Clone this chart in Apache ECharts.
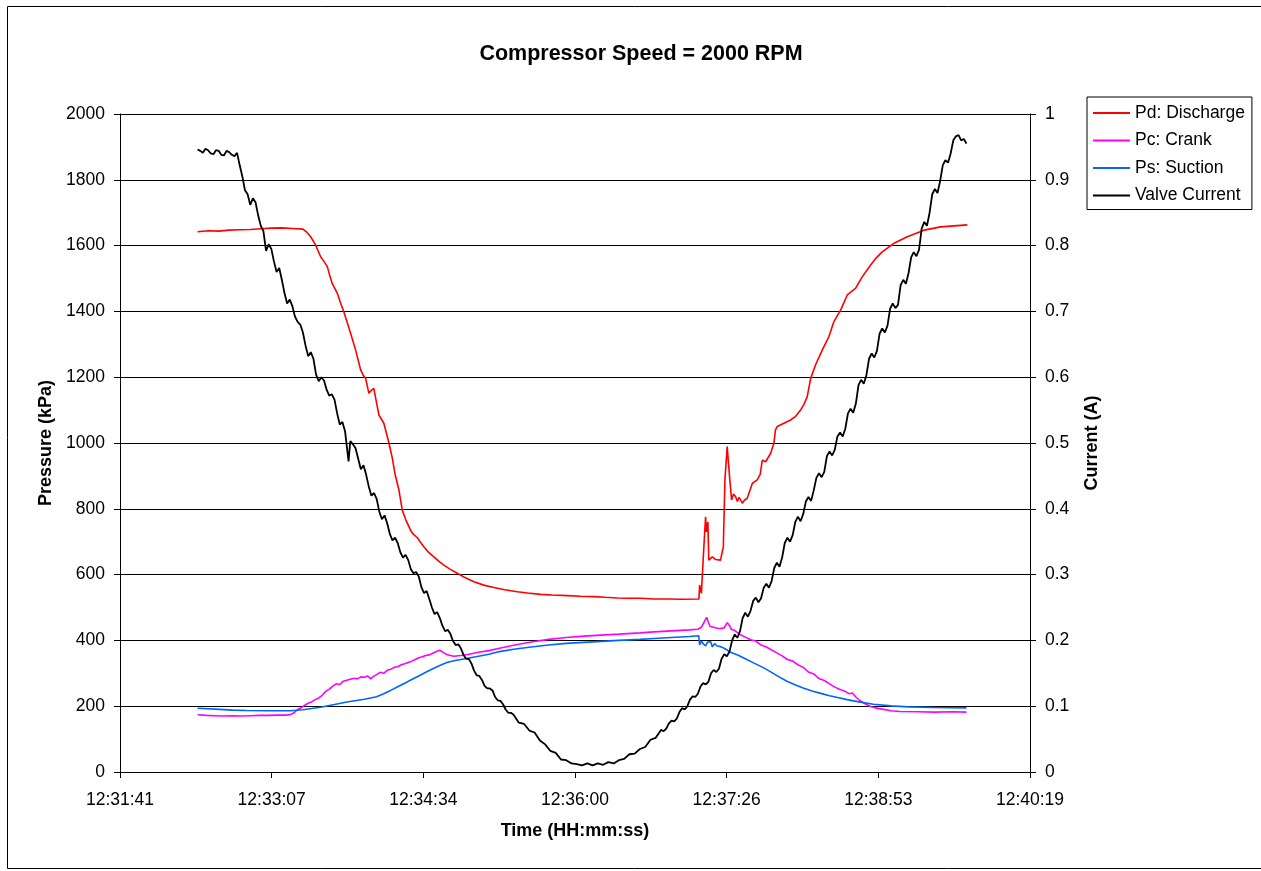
<!DOCTYPE html>
<html>
<head>
<meta charset="utf-8">
<script src="https://cdn.jsdelivr.net/npm/echarts@6/dist/echarts.min.js"></script>
<style>html,body{margin:0;padding:0;background:#fff}#c{width:1261px;height:871px}</style>
</head>
<body>
<div id="c"></div>
<script>
// Time axis in seconds since midnight; data start 12:32:25
const tStart = 45145;
const xMin = 45100.8, xMax = 45619.2, xInterval = 86.4; // 12:31:41 .. 12:40:19
const pressureTicks = [0, 200, 400, 600, 800, 1000, 1200, 1400, 1600, 1800, 2000];
const currentTicks = [0, 0.1, 0.2, 0.3, 0.4, 0.5, 0.6, 0.7, 0.8, 0.9, 1];
const seriesNames = ['Pd: Discharge', 'Pc: Crank', 'Ps: Suction', 'Valve Current'];

// Pd: Discharge (kPa), times are seconds after tStart
const pdTime = [0,6,12,18,24,30,36,42,48,54,60,62,64.4,67.2,70.1,72,73.9,75.5,76.7,79.6,81.5,83.3,85,87.2,90,92.9,94.5,95.7,97.6,99,100.4,101.5,103.3,106.1,109,110.9,112.5,114.7,116.6,118.5,121.3,123,125.2,127,128.9,131.5,134.6,137.5,140.3,144,147.9,152,157.4,163,168.8,175,182.1,188,195.4,202,210.6,218,225.8,232,239.1,246,252.4,259.9,268,276,285.6,286,287,288.1,289,289.4,289.9,290.3,290.7,291.2,292,293.2,295,297.9,299.5,300.4,301.7,303.2,304.2,305.3,306.5,307.5,308.5,310.3,311.5,313.1,316,318.8,320.5,321.7,323.6,326.4,328.3,329.2,330.2,334,337.8,340.5,343.5,345.5,347.3,349.2,352,355.9,359.6,362.5,366.3,370.1,374.8,378.6,383.3,386.5,390,396.7,404.3,413.8,423.3,430.9,438.5];
const pdValues = [1642,1645,1644,1647,1648,1649,1651,1653,1654,1652,1650,1642,1627,1602,1566,1552,1536,1505,1485,1455,1425,1399,1370,1333,1283,1222,1205,1197,1151,1160,1166,1135,1085,1060,1000,955,905,857,796,768,735,722,712,698,685,668,654,640,629,616,604,592,578,568,561,554,548,544,540,538,536,534,533,531,529,528,528,526,526,525,526,568,543,654,740,776,730,725,760,644,650,654,646,644,685,888,989,888,827,845,837,822,835,817,826,832,877,888,905,948,943,968,999,1040,1050,1060,1070,1080,1100,1118,1141,1195,1237,1283,1323,1369,1404,1450,1470,1505,1540,1562,1581,1607,1627,1647,1657,1660,1663];

// Pc: Crank (kPa)
const pcTime = [0,5,10,15,20,25,30,35,40,45,50,53,55,57,59,61,63,65,67,69,71,73,75,77,79,81,83,85,87,89,91,93,95,97,98.6,100,102,104,106,108,110,112,114,116,118,120,122,124,126,128,130,132,134,136,138,139,140.3,142,144,146,150,154,160,166,172,180,190,200,210,220,230,240,252,260,270,280,285,287,288.5,290,291,292,294,296,298,300,301.7,303,304,306,309,312,315,318,321,324,327,330,333,336,339,342,345,348,351,354,357,360,363,366,369,371,373,375,377,380,383,386,390,395,400,410,420,430,438];
const pcValues = [174,172,171,170,171,170,171,172,172,173,173,175,180,190,195,203,209,213,220,225,233,245,252,261,268,266,276,279,282,285,283,289,288,292,283,290,296,303,300,309,312,318,320,326,329,333,337,342,347,350,354,356,361,366,370,373,362,357,354,352,354,357,364,369,376,385,395,403,409,413,416,419,423,426,429,432,434,440,455,470,455,442,440,437,436,438,454,445,434,430,418,410,402,398,386,380,371,362,353,342,337,326,318,304,298,284,278,268,258,251,245,238,240,228,218,208,200,195,191,186,184,183,182,183,182];

// Ps: Suction (kPa)
const psTime = [0,10,20,28,40,53,60,70,78,85,95,102,106,110,114,118,122,126,130,134,138,142,146,150,154,160,166,172,180,190,200,210,220,230,240,252,260,270,280,285.5,286,287,288,289.4,290.5,291.2,292.3,293.2,294.5,296,298,300,303.6,308,312,317,322,326,331,336,341,345,350,355,360,364,370,376,385,395,405,420,438];
const psValues = [194,191,188,187,186,186,189,197,205,213,221,229,238,248,259,270,281,292,303,314,324,333,338,342,346,352,358,366,373,380,386,391,394,397,400,403,406,409,412,414,386,398,390,383,395,389,396,381,390,383,381,376,364,355,344,331,318,306,290,275,264,255,246,239,232,227,220,214,206,201,198,196,195];

// Valve Current (A): [seconds after tStart, amps]
const vcPoints = [
 [0,.946],[1.5,.944],[3,.941],[4.5,.947],[6,.945],[7.5,.940],[9,.939],[10.5,.945],[12,.944],[13.5,.938],[15,.937],[16.5,.944],[18,.942],[19.5,.938],[21,.936],[22.5,.941],
 [24,.922],[25.5,.905],[27,.884],[28.5,.878],[30,.862],[31.5,.872],[33,.866],[34.5,.846],[36,.830],[37.5,.822],
 [39,.792],[40.5,.802],[42,.795],[43.5,.776],[45,.760],[46.5,.766],[48,.748],[49.5,.728],[51,.712],[52.5,.718],
 [54,.708],[55.5,.692],[57,.684],[58.5,.680],[60,.668],[61.5,.648],[63,.632],[64.5,.638],[66,.628],[67.5,.604],
 [69,.594],[70.5,.600],[72,.595],[73.5,.581],[75,.572],[76.5,.574],[78,.566],[79.5,.545],[81,.528],[82.5,.532],
 [84,.518],[86,.472],[87,.503],
 [88.5,.498],[90,.492],[91.5,.476],[93,.460],[94.5,.466],[96,.452],[97.5,.434],[99,.420],[100.5,.424],[102,.415],
 [103.5,.396],[105,.384],[106.5,.390],[108,.378],[109.5,.362],[111,.352],[112.5,.356],[114,.348],[115.5,.334],[117,.326],
 [118.5,.330],[120,.322],[121.5,.308],[123,.302],[124.5,.304],[126,.297],[127.5,.281],[129,.272],[130.5,.275],[132,.263],
 [133.5,.250],[135,.240],[136.5,.243],[138,.234],[139.5,.222],[141,.214],[142.5,.216],[144,.210],[145.5,.199],[147,.193],
 [148.5,.194],[150,.188],[151.5,.178],[153,.172],[154.5,.172],[156,.165],[157.5,.154],[159,.147],[160.5,.146],[162,.140],
 [163.5,.131],[165,.127],[166.5,.127],[168,.124],[169.5,.114],[171,.109],[172.5,.108],[174,.103],[175.5,.095],[177,.090],
 [178.5,.090],[180,.087],
 [183,.075],[186,.073],[189,.063],[192,.060],[195,.048],[198,.042],[201,.032],[204,.029],[207,.019],[210,.018],
 [213,.013],[216,.012],[219,.010],[222,.013],[225,.010],[228,.013],[231,.011],[234,.015],[237,.013],[240,.018],
 [243,.020],[246,.027],[249,.028],[252,.035],[255,.038],[258,.049],[261,.052],
 [264,.064],[265.5,.062],[267,.066],[268.5,.074],[270,.078],[271.5,.077],[273,.081],[274.5,.091],[276,.097],[277.5,.095],
 [279,.100],[280.5,.110],[282,.115],[283.5,.114],[285,.119],[286.5,.130],[288,.135],[289.5,.133],[291,.137],[292.5,.150],
 [294,.155],[295.5,.152],[297,.157],[298.5,.172],[300,.179],[301.5,.176],[303,.183],[304.5,.200],[306,.209],[307.5,.204],
 [309,.214],[310.5,.234],[312,.242],[313.5,.236],[315,.245],[316.5,.260],[318,.265],[319.5,.258],[321,.264],[322.5,.280],
 [324,.286],[325.5,.280],[327,.290],[328.5,.310],[330,.318],[331.5,.312],[333,.326],[334.5,.348],[336,.356],[337.5,.350],
 [339,.360],[340.5,.380],[342,.388],[343.5,.381],[345,.392],[346.5,.411],[348,.418],[349.5,.412],[351,.428],[352.5,.447],
 [354,.454],[355.5,.448],[357,.456],[358.5,.480],[360,.487],[361.5,.481],[363,.490],[364.5,.510],[366,.516],[367.5,.510],
 [369,.522],[370.5,.545],[372,.552],[373.5,.546],[375,.560],[376.5,.588],[378,.596],[379.5,.590],[381,.603],[382.5,.628],
 [384,.636],[385.5,.630],[387,.640],[388.5,.666],[390,.674],[391.5,.668],[393,.678],[394.5,.704],[396,.712],[397.5,.705],
 [399,.710],[400.5,.740],[402,.748],[403.5,.742],[405,.758],[406.5,.782],[408,.790],[409.5,.784],[411,.794],[412.5,.826],
 [414,.836],[415.5,.830],[417,.850],[418.5,.878],[420,.886],[421.5,.880],[423,.898],[424.5,.922],[426,.930],[427.5,.926],
 [429,.940],[430.5,.960],[432,.966],[433.5,.968],[435,.960],[436.5,.962],[438,.955]
];

function pairs(ts, vs) { return ts.map((t, i) => [tStart + t, vs[i]]); }
function hms(v) {
  let s = Math.round(v);
  const h = Math.floor(s / 3600); s -= h * 3600;
  const m = Math.floor(s / 60); s -= m * 60;
  const p = n => (n < 10 ? '0' : '') + n;
  return h + ':' + p(m) + ':' + p(s);
}

const FONT = "'Liberation Sans', Arial, sans-serif";
const chart = echarts.init(document.getElementById('c'), null, { renderer: 'canvas' });
const axisCommon = {
  axisLine: { show: true, lineStyle: { color: '#000', width: 1 } },
  axisTick: { show: true, inside: false, length: 6, lineStyle: { color: '#000' } },
  axisLabel: { color: '#000', fontFamily: FONT, fontSize: 17.5 },
  nameTextStyle: { color: '#000', fontFamily: FONT, fontSize: 18, fontWeight: 'bold' }
};
chart.setOption({
  animation: false,
  backgroundColor: '#fff',
  title: {
    text: 'Compressor Speed = 2000 RPM',
    left: 636, top: 38, textAlign: 'center',
    textStyle: { fontFamily: FONT, fontSize: 21.5, fontWeight: 'bold', color: '#000' }
  },
  graphic: [{
    type: 'rect', silent: true, z: -10,
    shape: { x: 7.5, y: 6.5, width: 1262, height: 862 },
    style: { fill: null, stroke: '#000', lineWidth: 1 }
  }],
  legend: {
    orient: 'vertical', left: 1087, top: 97,
    data: seriesNames,
    icon: 'rect',
    borderColor: '#000', borderWidth: 1, borderRadius: 0,
    padding: [6, 7, 4, 6],
    itemWidth: 37, itemHeight: 2, itemGap: 7.5,
    textStyle: { fontFamily: FONT, fontSize: 17.5, color: '#000', lineHeight: 20 }
  },
  grid: { left: 120, right: 231, top: 114, bottom: 99 },
  xAxis: Object.assign({}, axisCommon, {
    type: 'value', min: xMin, max: xMax, interval: xInterval,
    name: 'Time (HH:mm:ss)', nameLocation: 'middle', nameGap: 50,
    splitLine: { show: false },
    axisLabel: Object.assign({}, axisCommon.axisLabel, { margin: 19, formatter: v => hms(v) })
  }),
  yAxis: [
    Object.assign({}, axisCommon, {
      type: 'value', min: pressureTicks[0], max: pressureTicks[pressureTicks.length - 1], interval: 200,
      name: 'Pressure (kPa)', nameLocation: 'middle', nameGap: 63,
      splitLine: { show: true, lineStyle: { color: '#000', width: 1 } },
      axisLabel: Object.assign({}, axisCommon.axisLabel, { margin: 15, formatter: v => String(Math.round(v)) })
    }),
    Object.assign({}, axisCommon, {
      type: 'value', min: currentTicks[0], max: currentTicks[currentTicks.length - 1], interval: 0.1,
      position: 'right',
      name: 'Current (A)', nameLocation: 'middle', nameGap: 53, nameRotate: 90,
      splitLine: { show: false },
      axisLabel: Object.assign({}, axisCommon.axisLabel, { margin: 15, formatter: v => String(Math.round(v * 10) / 10) })
    })
  ],
  series: [
    { name: seriesNames[0], type: 'line', yAxisIndex: 0, symbol: 'none', data: pairs(pdTime, pdValues),
      lineStyle: { color: '#FF0000', width: 1.6 }, itemStyle: { color: '#FF0000' } },
    { name: seriesNames[1], type: 'line', yAxisIndex: 0, symbol: 'none', data: pairs(pcTime, pcValues),
      lineStyle: { color: '#FF00FF', width: 1.6 }, itemStyle: { color: '#FF00FF' } },
    { name: seriesNames[2], type: 'line', yAxisIndex: 0, symbol: 'none', data: pairs(psTime, psValues),
      lineStyle: { color: '#0066FF', width: 1.6 }, itemStyle: { color: '#0066FF' } },
    { name: seriesNames[3], type: 'line', yAxisIndex: 1, symbol: 'none', data: vcPoints.map(p => [tStart + p[0], p[1]]),
      lineStyle: { color: '#000000', width: 1.8 }, itemStyle: { color: '#000000' } }
  ]
});
</script>
</body>
</html>
